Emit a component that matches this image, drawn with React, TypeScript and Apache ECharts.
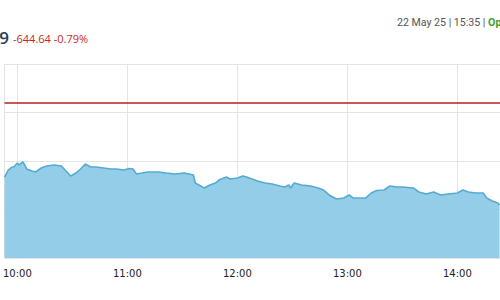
import React, { useEffect, useRef } from "react";
import * as echarts from "echarts";

const times: string[] = [
  "09:53", "09:55", "09:57", "09:58", "10:00", "10:01", "10:03", "10:04", "10:05", "10:08",
  "10:10", "10:13", "10:16", "10:20", "10:24", "10:27", "10:29", "10:32", "10:35", "10:37",
  "10:40", "10:43", "10:47", "10:51", "10:54", "10:58", "11:01", "11:03", "11:05", "11:08",
  "11:11", "11:17", "11:21", "11:26", "11:31", "11:36", "11:37", "11:40", "11:42", "11:45",
  "11:48", "11:50", "11:54", "11:56", "12:00", "12:03", "12:05", "12:08", "12:11", "12:15",
  "12:19", "12:23", "12:26", "12:28", "12:29", "12:31", "12:35", "12:40", "12:44", "12:47",
  "12:50", "12:54", "12:58", "13:01", "13:03", "13:07", "13:10", "13:13", "13:16", "13:20",
  "13:23", "13:27", "13:30", "13:36", "13:39", "13:43", "13:47", "13:51", "13:55", "14:00",
  "14:03", "14:06", "14:10", "14:14", "14:16", "14:19", "14:22", "14:23",
];

const prices: number[] = [
  80835, 80907, 80938, 80938, 80979, 80959, 80990, 80959, 80918, 80897,
  80887, 80928, 80948, 80959, 80948, 80887, 80845, 80876, 80928, 80969,
  80938, 80938, 80928, 80918, 80918, 80907, 80923, 80918, 80866, 80876,
  80887, 80887, 80876, 80866, 80876, 80856, 80773, 80742, 80722, 80753,
  80773, 80804, 80835, 80814, 80825, 80845, 80835, 80814, 80794, 80773,
  80763, 80742, 80732, 80753, 80722, 80773, 80753, 80742, 80722, 80701,
  80650, 80608, 80619, 80650, 80619, 80619, 80619, 80670, 80696, 80701,
  80742, 80732, 80732, 80722, 80680, 80660, 80680, 80650, 80660, 80670,
  80701, 80680, 80670, 80670, 80619, 80588, 80567, 80546,
];

const prevClose = 81596.63;
const lastPrice = "80,951.99";
const change = "-644.64";
const changePct = "-0.79%";
const stamp = "22 May 25 | 15:35 | ";
const status = "Open";

const yMin = 80000;
const yMax = 82000;
const yStep = 500;

function toTs(hm: string): number {
  const [h, m] = hm.split(":").map(Number);
  return new Date(2025, 4, 22, h, m, 0).getTime();
}

export default function App() {
  const ref = useRef<HTMLDivElement>(null);

  useEffect(() => {
    if (!ref.current) return;
    const chart = echarts.init(ref.current, undefined, { renderer: "svg" });
    const data = times.map((t, i) => [toTs(t), prices[i]]);
    const xMin = new Date(2025, 4, 22, 9, 52, 58).getTime();
    const xMax = new Date(2025, 4, 22, 14, 23, 14).getTime();

    chart.setOption({
      animation: false,
      grid: { left: 0, right: 0, top: 64, height: 194 },
      xAxis: {
        type: "time",
        min: xMin,
        max: xMax,
        minInterval: 3600000,
        maxInterval: 3600000,
        axisLine: { show: false },
        axisTick: { show: false },
        axisLabel: {
          formatter: "{HH}:{mm}",
          color: "#222",
          fontFamily: "Verdana, DejaVu Sans, sans-serif",
          fontSize: 10,
          margin: 10,
          showMinLabel: false,
          showMaxLabel: false,
          hideOverlap: false,
        },
        splitLine: { show: true, lineStyle: { color: "#e4e4e4", width: 1 } },
      },
      yAxis: {
        type: "value",
        min: yMin,
        max: yMax,
        interval: yStep,
        axisLabel: { show: false },
        axisLine: { show: false },
        axisTick: { show: false },
        splitLine: { show: true, lineStyle: { color: "#e4e4e4", width: 1 } },
      },
      series: [
        {
          type: "line",
          data,
          symbol: "none",
          lineStyle: { color: "#55aad3", width: 1.6 },
          areaStyle: { color: "#8ecae6", opacity: 0.95, origin: "start" },
          markLine: {
            silent: true,
            symbol: "none",
            label: { show: false },
            lineStyle: { color: "#b3201c", width: 1.6, type: "solid" },
            data: [{ yAxis: prevClose }],
          },
          z: 1,
        },
      ],
      graphic: [
        {
          type: "text",
          x: 9,
          y: 37,
          style: {
            text: lastPrice,
            align: "right",
            verticalAlign: "middle",
            fill: "#1f3f57",
            font: "600 17px 'Open Sans', 'Noto Sans', sans-serif",
          },
        },
        {
          type: "text",
          x: 13,
          y: 38,
          style: {
            text: change + " " + changePct,
            align: "left",
            verticalAlign: "middle",
            fill: "#cc1f26",
            font: "11px 'Open Sans', 'Noto Sans', sans-serif",
          },
        },
        {
          type: "text",
          x: 397,
          y: 22,
          style: {
            text: "{a|" + stamp + "}{b|" + status + "}",
            align: "left",
            verticalAlign: "middle",
            rich: {
              a: { fill: "#555", font: "10.6px Roboto, 'Noto Sans', sans-serif" },
              b: { fill: "#3aa32a", font: "bold 10.6px Roboto, 'Noto Sans', sans-serif" },
            },
          },
        },
      ],
    });
    return () => chart.dispose();
  }, []);

  return (
    <div
      ref={ref}
      style={{ position: "fixed", left: 0, top: 0, width: 500, height: 300, background: "#fff" }}
    />
  );
}
